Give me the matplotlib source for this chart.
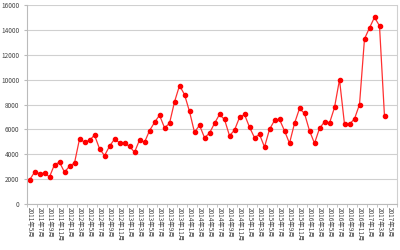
import matplotlib.pyplot as plt
import numpy as np

plt.rcParams['font.family'] = ['Noto Sans CJK SC', 'DejaVu Sans']

# category axis runs 2011-05 .. 2017-06, data stops at 2017-04
months = []
for y in range(2011, 2018):
    for m in range(1, 13):
        if (y == 2011 and m < 5) or (y == 2017 and m > 6):
            continue
        months.append(f'{y}年{m}月')

values = [1920, 2560, 2450, 2480, 2180, 3170, 3360, 2560, 3040, 3300,
          5220, 4980, 5120, 5540, 4450, 3890, 4640, 5220, 4930, 4880,
          4640, 4160, 5140, 4960, 5890, 6560, 7140, 6130, 6480, 8210,
          9520, 8800, 7440, 5760, 6340, 5330, 5700, 6480, 7200, 6800,
          5490, 5940, 6960, 7200, 6180, 5330, 5600, 4580, 6000, 6720,
          6800, 5890, 4880, 6480, 7680, 7280, 5890, 4880, 6080, 6610,
          6500, 7760, 10000, 6420, 6420, 6850, 8000, 13280, 14160, 15010,
          14320, 7040]

fig = plt.figure(figsize=(4, 2.5), dpi=100)
ax = fig.add_axes([0.0675, 0.184, 0.925, 0.796])

x = np.arange(len(values))
ax.plot(x, values, color='#ff3030', lw=0.9, marker='o', ms=3.0,
        mfc='#ff0000', mec='#ff0000')

n = len(months)
ax.set_xlim(-0.5, n - 0.5)
ax.set_ylim(0, 16000)
ax.set_yticks(range(0, 16001, 2000))
ax.yaxis.grid(True, color='#d0d0d0', lw=0.8)
ax.set_axisbelow(True)

ax.set_xticks(np.arange(0, n, 2))
ax.set_xticklabels(months[::2], rotation=-90, fontsize=4.6, color='#444444')
ax.set_xticks(np.arange(-0.5, n, 2), minor=True)
ax.tick_params(axis='x', which='major', length=0, pad=2)
ax.tick_params(axis='x', which='minor', length=2.5, color='#bbbbbb')
ax.tick_params(axis='y', labelsize=4.6, labelcolor='#444444', length=2.5,
               color='#bbbbbb', pad=3)

ax.spines['top'].set_visible(False)
ax.spines['right'].set_color('#d0d0d0')
ax.spines['left'].set_color('#bbbbbb')
ax.spines['bottom'].set_color('#bbbbbb')

fig.savefig('out.png', dpi=100)
